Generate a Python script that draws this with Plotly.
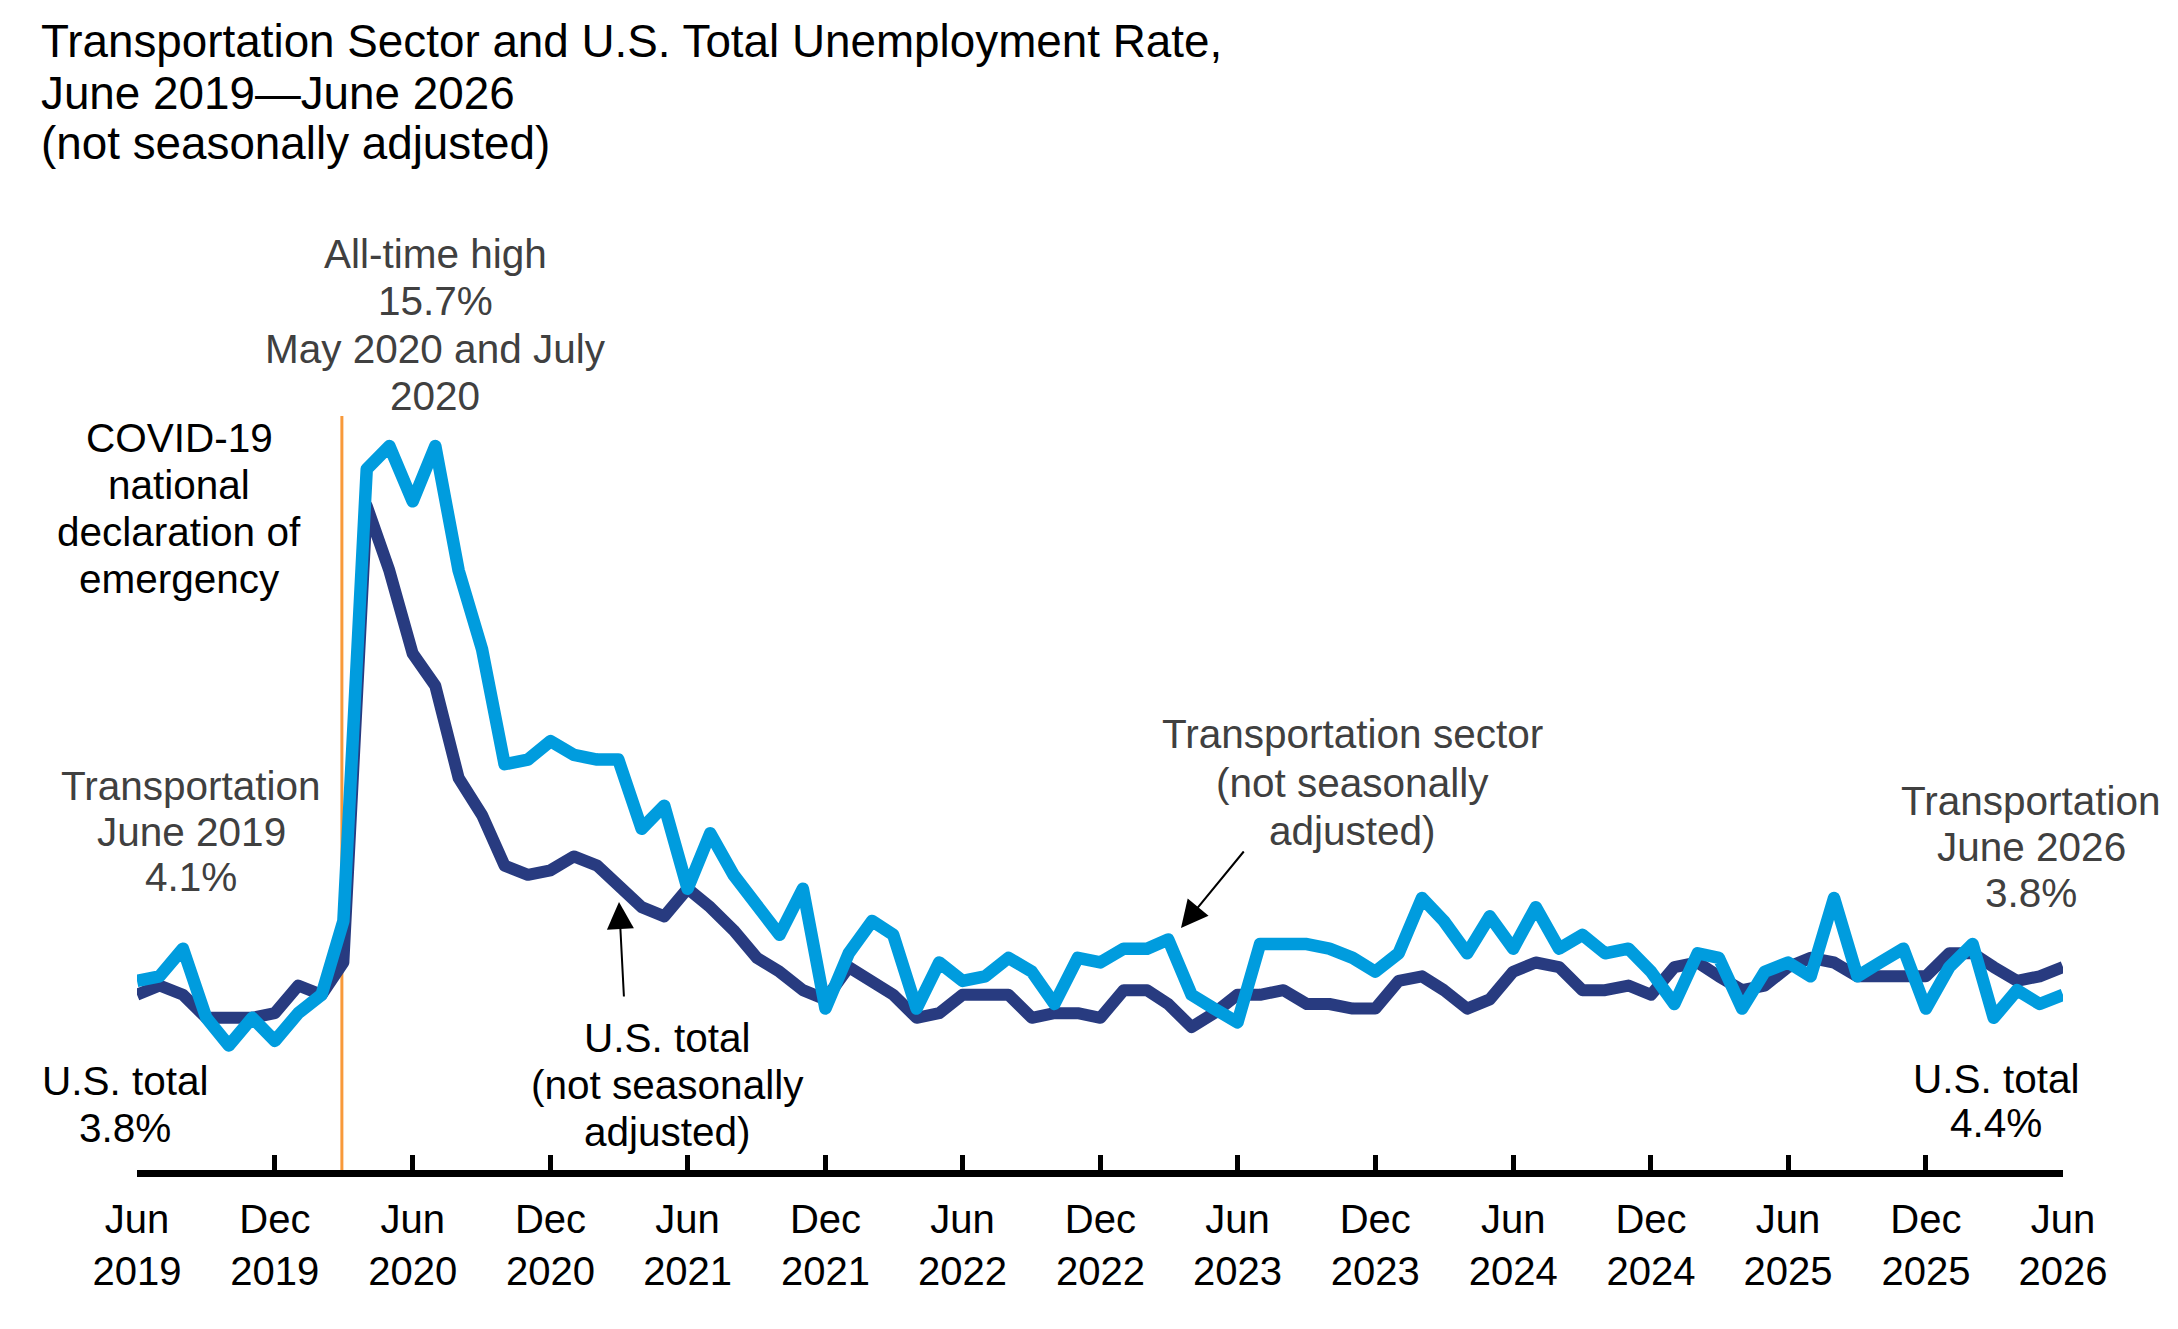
import plotly.graph_objects as go
import pandas as pd

# ---------------- data ----------------
months = pd.date_range("2019-06-01", "2026-06-01", freq="MS").strftime("%Y-%m-%d").tolist()

transportation = [
    4.1, 4.2, 4.8, 3.3, 2.7, 3.3, 2.8, 3.4, 3.8, 5.4,          # Jun 2019 - Mar 2020
    15.2, 15.7, 14.5, 15.7, 13.0, 11.3, 8.8, 8.9, 9.3, 9.0,    # Apr 2020 - Jan 2021
    8.9, 8.9, 7.4, 7.9, 6.1, 7.3, 6.4, 5.7, 5.1, 6.1,          # Feb 2021 - Nov 2021
    3.5, 4.7, 5.4, 5.1, 3.5, 4.5, 4.1, 4.2, 4.6, 4.3,          # Dec 2021 - Sep 2022
    3.6, 4.6, 4.5, 4.8, 4.8, 5.0, 3.8, 3.5, 3.2, 4.9,          # Oct 2022 - Jul 2023
    4.9, 4.9, 4.8, 4.6, 4.3, 4.7, 5.9, 5.4, 4.7, 5.5,          # Aug 2023 - May 2024
    4.8, 5.7, 4.8, 5.1, 4.7, 4.8, 4.3, 3.6, 4.7, 4.6,          # Jun 2024 - Mar 2025
    3.5, 4.3, 4.5, 4.2, 5.9, 4.2, 4.5, 4.8, 3.5, 4.4,          # Apr 2025 - Jan 2026
    4.9, 3.3, 3.9, 3.6, 3.8,                                   # Feb 2026 - Jun 2026
]

us_total = [
    3.8, 4.0, 3.8, 3.3, 3.3, 3.3, 3.4, 4.0, 3.8, 4.5,
    14.4, 13.0, 11.2, 10.5, 8.5, 7.7, 6.6, 6.4, 6.5, 6.8,
    6.6, 6.2, 5.7, 5.5, 6.1, 5.7, 5.2, 4.6, 4.3, 3.9,
    3.7, 4.4, 4.1, 3.8, 3.3, 3.4, 3.8, 3.8, 3.8, 3.3,
    3.4, 3.4, 3.3, 3.9, 3.9, 3.6, 3.1, 3.4, 3.8, 3.8,
    3.9, 3.6, 3.6, 3.5, 3.5, 4.1, 4.2, 3.9, 3.5, 3.7,
    4.3, 4.5, 4.4, 3.9, 3.9, 4.0, 3.8, 4.4, 4.5, 4.2,
    3.9, 4.0, 4.4, 4.6, 4.5, 4.2, 4.2, 4.2, 4.2, 4.7,
    4.7, 4.4, 4.1, 4.2, 4.4,
]

tick_vals = [
    "2019-06-01", "2019-12-01", "2020-06-01", "2020-12-01", "2021-06-01",
    "2021-12-01", "2022-06-01", "2022-12-01", "2023-06-01", "2023-12-01",
    "2024-06-01", "2024-12-01", "2025-06-01", "2025-12-01", "2026-06-01",
]
tick_text = [
    "Jun<br>2019", "Dec<br>2019", "Jun<br>2020", "Dec<br>2020", "Jun<br>2021",
    "Dec<br>2021", "Jun<br>2022", "Dec<br>2022", "Jun<br>2023", "Dec<br>2023",
    "Jun<br>2024", "Dec<br>2024", "Jun<br>2025", "Dec<br>2025", "Jun<br>2026",
]

covid_date = "2020-02-28"
covid_line_top = 16.35

# ---------------- styling ----------------
W, H = 2178, 1329
ML, MR, MT, MB = 137, 115, 363, 159
Y_MAX = 17.5
FONT = "Arial, 'Liberation Sans', Helvetica, sans-serif"
NAVY = "#283B80"
SKY = "#009CDE"
ORANGE = "#F8993A"
GRAY = "#404040"

PW = W - ML - MR
PH = H - MT - MB


def px_to_paper(xp, yp):
    return (xp - ML) / PW, (H - MB - yp) / PH


fig = go.Figure()

fig.add_trace(go.Scatter(
    x=[covid_date, covid_date], y=[0, covid_line_top], mode="lines",
    line=dict(color=ORANGE, width=3), hoverinfo="skip", showlegend=False))

fig.add_trace(go.Scatter(
    x=months, y=us_total, mode="lines", name="U.S. total",
    line=dict(color=NAVY, width=12), showlegend=False))

fig.add_trace(go.Scatter(
    x=months, y=transportation, mode="lines", name="Transportation sector",
    line=dict(color=SKY, width=12.5), showlegend=False))

annotations = []


def add_block(lines, xc, y_first, color, size=40.5, spacing=46.5, anchor="center"):
    for i, t in enumerate(lines):
        xp, yp = px_to_paper(xc, y_first + i * spacing)
        annotations.append(dict(
            text=t, x=xp, y=yp, xref="paper", yref="paper",
            xanchor=anchor, yanchor="middle", showarrow=False,
            font=dict(family=FONT, size=size, color=color)))


# title
add_block(["Transportation Sector and U.S. Total Unemployment Rate,",
           "June 2019\u2014June 2026",
           "(not seasonally adjusted)"], 39, 42, "black", size=45.8, spacing=51, anchor="left")

add_block(["All-time high", "15.7%", "May 2020 and July", "2020"], 435, 254, GRAY, spacing=47.3)
add_block(["COVID-19", "national", "declaration of", "emergency"], 179, 438, "black", spacing=47)
add_block(["Transportation", "June 2019", "4.1%"], 191, 786, GRAY, spacing=45.5)
add_block(["U.S. total", "3.8%"], 125, 1081, "black", spacing=47)
add_block(["U.S. total", "(not seasonally", "adjusted)"], 667, 1038, "black", spacing=47)
add_block(["Transportation sector", "(not seasonally", "adjusted)"], 1352, 734, GRAY, spacing=48.5)
add_block(["Transportation", "June 2026", "3.8%"], 2031, 801, GRAY, spacing=46)
add_block(["U.S. total", "4.4%"], 1996, 1079, "black", spacing=44)


def add_arrow(head, tail):
    hx, hy = px_to_paper(*head)
    annotations.append(dict(
        text="", x=hx, y=hy, xref="paper", yref="paper",
        ax=tail[0] - head[0], ay=tail[1] - head[1], axref="pixel", ayref="pixel",
        showarrow=True, arrowhead=2, arrowsize=2.7, arrowwidth=2,
        arrowcolor="black", standoff=0, startstandoff=0))


add_arrow((619, 902), (624, 998))
add_arrow((1181, 928), (1245, 850))

fig.update_layout(
    width=W, height=H, autosize=False,
    margin=dict(l=ML, r=MR, t=MT, b=MB, pad=0),
    paper_bgcolor="white", plot_bgcolor="white",
    annotations=annotations,
    showlegend=False,
    font=dict(family=FONT, color="black"),
)

fig.update_xaxes(
    type="date", range=[months[0], months[-1]],
    tickmode="array", tickvals=tick_vals, ticktext=tick_text,
    tickfont=dict(family=FONT, size=40, color="black"),
    ticks="inside", ticklen=15, tickwidth=5, tickcolor="black",
    showline=True, linecolor="black", linewidth=7,
    showgrid=False, zeroline=False, ticklabelstandoff=8,
)
fig.update_yaxes(range=[0, Y_MAX], visible=False, showgrid=False, zeroline=False)

post = """
document.querySelectorAll('.scatterlayer path.js-line').forEach(function(p){
  p.style.strokeLinejoin='round';
});
"""
fig.write_html("out.html", post_script=post, config={"displayModeBar": False})
